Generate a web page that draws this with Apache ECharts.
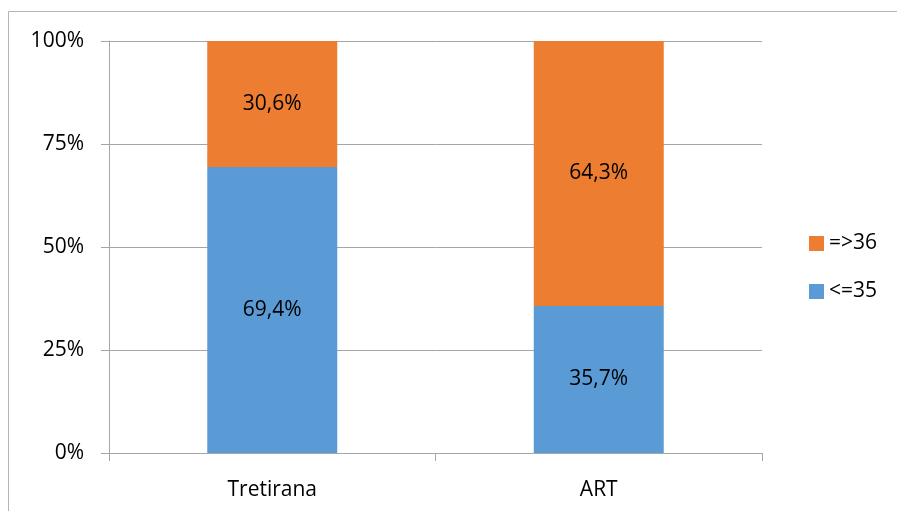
<!DOCTYPE html>
<html>
<head>
<meta charset="utf-8">
<script src="https://cdn.jsdelivr.net/npm/echarts@6/dist/echarts.min.js"></script>
<style>
  html, body { margin: 0; padding: 0; background: #fff; }
  #chart { width: 897px; height: 511px; }
</style>
</head>
<body>
<div id="chart"></div>
<script>
  // data
  var categories = ['Tretirana', 'ART'];
  var lowValues = [69.4, 35.7];   // <=35
  var highValues = [30.6, 64.3];  // =>36
  var yTicks = [0, 25, 50, 75, 100];

  var fontName = 'Open Sans';
  var myChart = echarts.init(document.getElementById('chart'));

  function pct(p) {
    return p.value.toFixed(1).replace('.', ',') + '%';
  }

  var option = {
    animation: false,
    color: ['#5B9BD5', '#ED7D31'],
    graphic: [{
      type: 'rect',
      shape: { x: 8.5, y: 11.5, width: 900, height: 520 },
      style: { fill: 'none', stroke: '#b4b4b4', lineWidth: 1 },
      silent: true
    }],
    grid: { left: 109, right: 135, top: 41, bottom: 58 },
    legend: {
      orient: 'vertical',
      left: 804,
      top: 228,
      itemWidth: 15,
      itemHeight: 15,
      itemGap: 27,
      icon: 'rect',
      data: ['=>36', '<=35'],
      textStyle: { fontFamily: fontName, fontSize: 21, color: '#000' }
    },
    xAxis: {
      type: 'category',
      data: categories,
      axisLine: { lineStyle: { color: '#a6a6a6', width: 1 } },
      axisTick: { show: true, length: 8, alignWithLabel: false, lineStyle: { color: '#a6a6a6' } },
      axisLabel: { fontFamily: fontName, fontSize: 21, color: '#000', margin: 27 }
    },
    yAxis: {
      type: 'value',
      min: 0,
      max: 100,
      interval: 25,
      axisLine: { show: true, lineStyle: { color: '#a6a6a6', width: 1 } },
      axisTick: { show: true, length: 8, lineStyle: { color: '#a6a6a6' } },
      splitLine: { lineStyle: { color: '#a6a6a6', width: 1 } },
      axisLabel: {
        fontFamily: fontName, fontSize: 21, color: '#000', margin: 25,
        formatter: function (v) { return yTicks.indexOf(v) >= 0 ? v + '%' : ''; }
      }
    },
    series: [{
      name: '<=35',
      type: 'bar',
      stack: 'total',
      barWidth: 130,
      data: lowValues,
      label: { show: true, position: 'inside', formatter: pct, fontFamily: fontName, fontSize: 21, color: '#000' }
    }, {
      name: '=>36',
      type: 'bar',
      stack: 'total',
      barWidth: 130,
      data: highValues,
      label: { show: true, position: 'inside', formatter: pct, fontFamily: fontName, fontSize: 21, color: '#000' }
    }]
  };

  myChart.setOption(option);
</script>
</body>
</html>
